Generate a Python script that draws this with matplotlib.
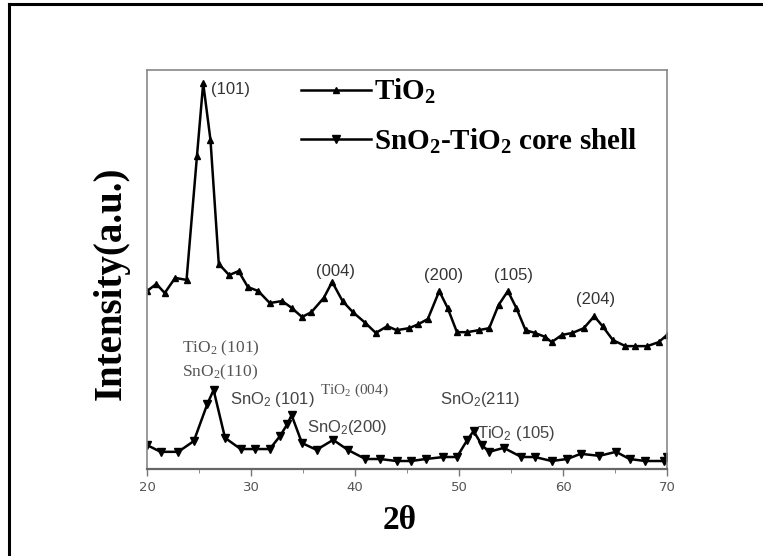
import matplotlib

matplotlib.use("Agg")
import matplotlib.pyplot as plt
from matplotlib.lines import Line2D
from matplotlib.ticker import MultipleLocator

plt.rcParams["mathtext.default"] = "regular"

# XRD patterns (intensity in arbitrary, stacked units)
tio2_2theta = [20.0, 20.9, 21.7, 22.7, 23.8, 24.8, 25.4, 26.1, 26.9, 27.9, 28.8,
               29.7, 30.7, 31.8, 33.0, 33.9, 34.9, 35.8, 37.0, 37.8, 38.8, 39.8,
               41.0, 42.0, 43.1, 44.0, 45.2, 46.1, 47.0, 48.1, 48.9, 49.8, 50.8,
               51.9, 52.9, 53.8, 54.7, 55.5, 56.4, 57.3, 58.3, 58.9, 59.9, 60.9,
               62.0, 63.0, 63.8, 64.8, 66.0, 66.9, 68.1, 69.2, 70.0]
tio2_int = [44.6, 46.4, 44.1, 47.9, 47.4, 78.4, 96.7, 82.5, 51.4, 48.6, 49.6,
            45.6, 44.6, 41.6, 42.1, 40.4, 38.1, 39.3, 42.9, 46.9, 42.1, 39.3,
            36.6, 34.1, 35.8, 34.8, 35.3, 36.3, 37.6, 44.6, 40.4, 34.3, 34.3,
            34.8, 35.3, 41.1, 44.6, 40.4, 34.8, 34.1, 33.1, 31.8, 33.6, 34.1,
            35.3, 38.3, 35.8, 32.3, 30.8, 30.8, 30.8, 31.8, 33.6]

core_2theta = [20.0, 21.3, 23.0, 24.5, 25.8, 26.4, 27.5, 29.0, 30.4, 31.8, 32.8,
               33.5, 33.9, 34.9, 36.3, 37.9, 39.3, 41.0, 42.4, 44.0, 45.4, 46.8,
               48.5, 49.8, 50.8, 51.4, 52.2, 52.9, 54.3, 56.0, 57.3, 58.9, 60.4,
               61.7, 63.5, 65.1, 66.4, 67.9, 69.7, 70.0]
core_int = [6.0, 4.3, 4.3, 7.0, 16.3, 19.8, 7.8, 5.0, 5.0, 5.0, 8.3,
            11.3, 13.5, 6.5, 4.8, 7.3, 4.8, 2.5, 2.5, 2.0, 2.0, 2.5,
            3.0, 3.0, 7.3, 9.5, 6.0, 4.3, 5.3, 3.0, 3.0, 2.0, 2.5,
            3.8, 3.3, 4.3, 2.5, 2.0, 2.0, 3.0]

# anatase peak labels on the TiO2 trace: (text, 2theta, intensity, ha)
tio2_labels = [("(101)", 26.15, 95.2, "left"), ("(004)", 38.1, 49.4, "center"),
               ("(200)", 48.5, 48.4, "center"), ("(105)", 55.2, 48.4, "center"),
               ("(204)", 63.1, 42.4, "center")]
# labels on the core-shell trace: (text, 2theta, intensity, family, size)
core_labels = [("TiO$_2$ (101)", 23.4, 30.3, "serif", 12.5),
               ("SnO$_2$(110)", 23.4, 24.3, "serif", 12.5),
               ("TiO$_2$ (004)", 36.6, 19.8, "serif", 11),
               ("SnO$_2$ (101)", 28.0, 17.3, "sans", 12),
               ("SnO$_2$(200)", 35.4, 10.5, "sans", 12),
               ("SnO$_2$(211)", 48.2, 17.3, "sans", 12),
               ("TiO$_2$ (105)", 51.7, 9.0, "sans", 12)]

fig = plt.figure(figsize=(7.63, 5.56), dpi=100)
ax = fig.add_axes([0.1927, 0.1565, 0.6815, 0.7175])

ax.plot(tio2_2theta, tio2_int, color="black", lw=1.8, marker="^", ms=4)
ax.plot(core_2theta, core_int, color="black", lw=1.8, marker="v", ms=5.5)

ax.set_xlim(20, 70)
ax.set_ylim(0, 100)
ax.xaxis.set_major_locator(MultipleLocator(10))
ax.xaxis.set_minor_locator(MultipleLocator(5))
ax.set_yticks([])
ax.tick_params(axis="x", which="major", direction="out", length=5, width=1,
               color="#777777", labelsize=9.5, labelcolor="#555555", pad=4)
ax.tick_params(axis="x", which="minor", direction="out", length=3, color="#777777")
for s in ax.spines.values():
    s.set_color("#888888")
    s.set_linewidth(1.2)
ax.spines["bottom"].set_color("#666666")
ax.spines["bottom"].set_linewidth(1.6)

serif = "Liberation Serif"
sans = "Liberation Sans"
ax.set_xlabel("2θ", family=serif, weight="bold", fontsize=24)
ax.set_ylabel("Intensity(a.u.)", family=serif, weight="bold", fontsize=28)
ax.xaxis.set_label_coords(0.485, -0.09)
ax.yaxis.set_label_coords(-0.033, 0.466)

for txt, x, y, ha in tio2_labels:
    ax.text(x, y, txt, family=sans, fontsize=12, color="#333333", ha=ha, va="center")
for txt, x, y, fam, size in core_labels:
    ax.text(x, y, txt, family=serif if fam == "serif" else sans, fontsize=size,
            color="#444444" if fam == "sans" else "#555555", ha="left", va="center")

handles = [Line2D([], [], color="black", lw=1.8, marker="^", ms=4),
           Line2D([], [], color="black", lw=1.8, marker="v", ms=5.5)]
ax.legend(handles, ["TiO$_2$", "SnO$_2$-TiO$_2$ core shell"],
          loc="upper left", bbox_to_anchor=(0.273, 1.012), frameon=False,
          prop={"family": serif, "weight": "bold", "size": 21},
          handlelength=2.4, handletextpad=0.1, labelspacing=0.7, borderaxespad=0)

# partial frame round the picture (top and left edges only)
fig.add_artist(Line2D([0.012, 0.012], [0.0, 0.993], color="black", lw=2.2,
                      transform=fig.transFigure))
fig.add_artist(Line2D([0.012, 1.0], [0.993, 0.993], color="black", lw=2.2,
                      transform=fig.transFigure))

fig.savefig("out.png", dpi=100)
